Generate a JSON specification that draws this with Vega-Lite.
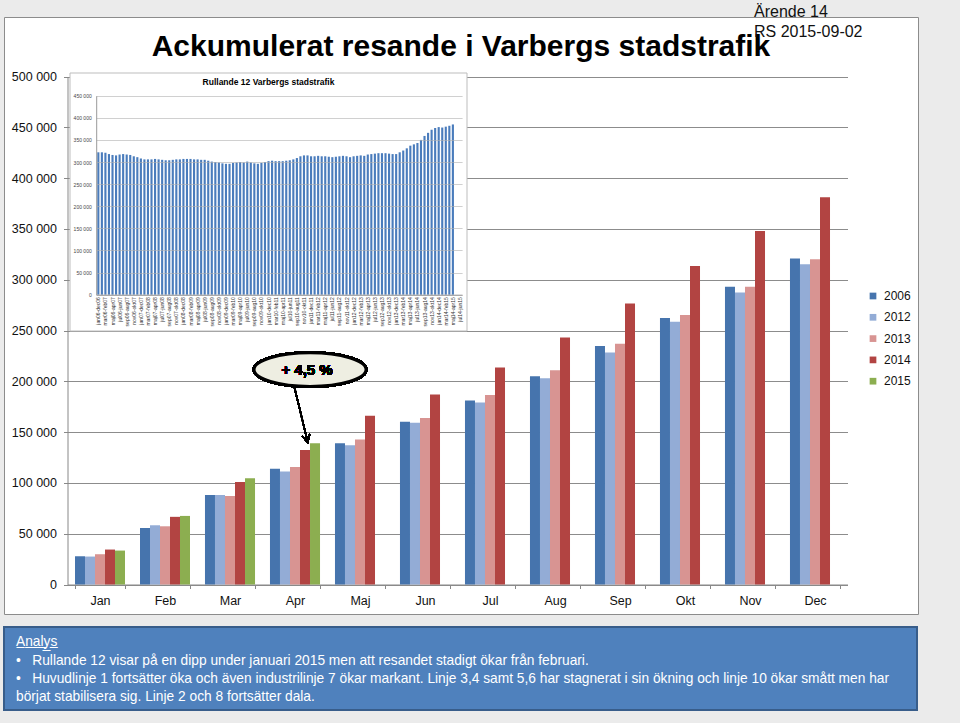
{
  "$schema": "https://vega.github.io/schema/vega-lite/v6.json",
  "background": "#ebebeb",
  "padding": {"left": 3, "top": 3, "right": 43, "bottom": 13},
  "config": {
    "font": "Liberation Sans",
    "view": {"stroke": null},
    "locale": {"number": {"decimal": ",", "thousands": " ", "grouping": [3], "currency": ["", ""]}}
  },
  "title": {
    "text": ["Ärende 14", "RS 2015-09-02"],
    "anchor": "start",
    "frame": "bounds",
    "dx": 751,
    "offset": -23,
    "fontSize": 16,
    "fontWeight": "normal",
    "lineHeight": 20,
    "color": "#111111"
  },
  "datasets": {
    "main": [
      {"month": "Jan", "year": "2006", "value": 27800},
      {"month": "Jan", "year": "2012", "value": 27500},
      {"month": "Jan", "year": "2013", "value": 29800},
      {"month": "Jan", "year": "2014", "value": 34400},
      {"month": "Jan", "year": "2015", "value": 33400},
      {"month": "Feb", "year": "2006", "value": 55600},
      {"month": "Feb", "year": "2012", "value": 58300},
      {"month": "Feb", "year": "2013", "value": 57300},
      {"month": "Feb", "year": "2014", "value": 66600},
      {"month": "Feb", "year": "2015", "value": 67500},
      {"month": "Mar", "year": "2006", "value": 88100},
      {"month": "Mar", "year": "2012", "value": 88100},
      {"month": "Mar", "year": "2013", "value": 87100},
      {"month": "Mar", "year": "2014", "value": 101000},
      {"month": "Mar", "year": "2015", "value": 104600},
      {"month": "Apr", "year": "2006", "value": 113900},
      {"month": "Apr", "year": "2012", "value": 111300},
      {"month": "Apr", "year": "2013", "value": 115600},
      {"month": "Apr", "year": "2014", "value": 132500},
      {"month": "Apr", "year": "2015", "value": 139100},
      {"month": "Maj", "year": "2006", "value": 139100},
      {"month": "Maj", "year": "2012", "value": 137100},
      {"month": "Maj", "year": "2013", "value": 142700},
      {"month": "Maj", "year": "2014", "value": 166200},
      {"month": "Jun", "year": "2006", "value": 160300},
      {"month": "Jun", "year": "2012", "value": 159300},
      {"month": "Jun", "year": "2013", "value": 163900},
      {"month": "Jun", "year": "2014", "value": 187000},
      {"month": "Jul", "year": "2006", "value": 181200},
      {"month": "Jul", "year": "2012", "value": 179200},
      {"month": "Jul", "year": "2013", "value": 186500},
      {"month": "Jul", "year": "2014", "value": 213500},
      {"month": "Aug", "year": "2006", "value": 205000},
      {"month": "Aug", "year": "2012", "value": 203000},
      {"month": "Aug", "year": "2013", "value": 210900},
      {"month": "Aug", "year": "2014", "value": 243200},
      {"month": "Sep", "year": "2006", "value": 234700},
      {"month": "Sep", "year": "2012", "value": 228400},
      {"month": "Sep", "year": "2013", "value": 237000},
      {"month": "Sep", "year": "2014", "value": 276600},
      {"month": "Okt", "year": "2006", "value": 262400},
      {"month": "Okt", "year": "2012", "value": 258700},
      {"month": "Okt", "year": "2013", "value": 265300},
      {"month": "Okt", "year": "2014", "value": 313500},
      {"month": "Nov", "year": "2006", "value": 293100},
      {"month": "Nov", "year": "2012", "value": 287500},
      {"month": "Nov", "year": "2013", "value": 293100},
      {"month": "Nov", "year": "2014", "value": 347900},
      {"month": "Dec", "year": "2006", "value": 320800},
      {"month": "Dec", "year": "2012", "value": 315200},
      {"month": "Dec", "year": "2013", "value": 320100},
      {"month": "Dec", "year": "2014", "value": 381200}
    ],
    "rolling": [
      {"period": "jan06-dec06", "value": 322000},
      {"period": "feb06-jan07", "value": 322000},
      {"period": "mar06-feb07", "value": 321000},
      {"period": "apr06-mar07", "value": 318000},
      {"period": "maj06-apr07", "value": 316000},
      {"period": "jun06-maj07", "value": 315000},
      {"period": "jul06-jun07", "value": 317000},
      {"period": "aug06-jul07", "value": 318000},
      {"period": "sep06-aug07", "value": 317000},
      {"period": "okt06-sep07", "value": 316000},
      {"period": "nov06-okt07", "value": 313000},
      {"period": "dec06-nov07", "value": 311000},
      {"period": "jan07-dec07", "value": 308000},
      {"period": "feb07-jan08", "value": 306000},
      {"period": "mar07-feb08", "value": 306000},
      {"period": "apr07-mar08", "value": 306000},
      {"period": "maj07-apr08", "value": 307000},
      {"period": "jun07-maj08", "value": 306000},
      {"period": "jul07-jun08", "value": 305000},
      {"period": "aug07-jul08", "value": 304000},
      {"period": "sep07-aug08", "value": 304000},
      {"period": "okt07-sep08", "value": 305000},
      {"period": "nov07-okt08", "value": 306000},
      {"period": "dec07-nov08", "value": 306000},
      {"period": "jan08-dec08", "value": 307000},
      {"period": "feb08-jan09", "value": 307000},
      {"period": "mar08-feb09", "value": 307000},
      {"period": "apr08-mar09", "value": 306000},
      {"period": "maj08-apr09", "value": 306000},
      {"period": "jun08-maj09", "value": 305000},
      {"period": "jul08-jun09", "value": 305000},
      {"period": "aug08-jul09", "value": 303000},
      {"period": "sep08-aug09", "value": 301000},
      {"period": "okt08-sep09", "value": 300000},
      {"period": "nov08-okt09", "value": 299000},
      {"period": "dec08-nov09", "value": 297000},
      {"period": "jan09-dec09", "value": 296000},
      {"period": "feb09-jan10", "value": 296000},
      {"period": "mar09-feb10", "value": 298000},
      {"period": "apr09-mar10", "value": 299000},
      {"period": "maj09-apr10", "value": 300000},
      {"period": "jun09-maj10", "value": 299000},
      {"period": "jul09-jun10", "value": 301000},
      {"period": "aug09-jul10", "value": 299000},
      {"period": "sep09-aug10", "value": 297000},
      {"period": "okt09-sep10", "value": 296000},
      {"period": "nov09-okt10", "value": 298000},
      {"period": "dec09-nov10", "value": 300000},
      {"period": "jan10-dec10", "value": 302000},
      {"period": "feb10-jan11", "value": 303000},
      {"period": "mar10-feb11", "value": 302000},
      {"period": "apr10-mar11", "value": 302000},
      {"period": "maj10-apr11", "value": 302000},
      {"period": "jun10-maj11", "value": 303000},
      {"period": "jul10-jun11", "value": 304000},
      {"period": "aug10-jul11", "value": 306000},
      {"period": "sep10-aug11", "value": 309000},
      {"period": "okt10-sep11", "value": 313000},
      {"period": "nov10-okt11", "value": 315000},
      {"period": "dec10-nov11", "value": 315000},
      {"period": "jan11-dec11", "value": 313000},
      {"period": "feb11-jan12", "value": 313000},
      {"period": "mar11-feb12", "value": 314000},
      {"period": "apr11-mar12", "value": 313000},
      {"period": "maj11-apr12", "value": 313000},
      {"period": "jun11-maj12", "value": 312000},
      {"period": "jul11-jun12", "value": 311000},
      {"period": "aug11-jul12", "value": 312000},
      {"period": "sep11-aug12", "value": 313000},
      {"period": "okt11-sep12", "value": 314000},
      {"period": "nov11-okt12", "value": 313000},
      {"period": "dec11-nov12", "value": 311000},
      {"period": "jan12-dec12", "value": 313000},
      {"period": "feb12-jan13", "value": 314000},
      {"period": "mar12-feb13", "value": 315000},
      {"period": "apr12-mar13", "value": 314000},
      {"period": "maj12-apr13", "value": 317000},
      {"period": "jun12-maj13", "value": 318000},
      {"period": "jul12-jun13", "value": 319000},
      {"period": "aug12-jul13", "value": 320000},
      {"period": "sep12-aug13", "value": 320000},
      {"period": "okt12-sep13", "value": 320000},
      {"period": "nov12-okt13", "value": 319000},
      {"period": "dec12-nov13", "value": 318000},
      {"period": "jan13-dec13", "value": 318000},
      {"period": "feb13-jan14", "value": 322000},
      {"period": "mar13-feb14", "value": 326000},
      {"period": "apr13-mar14", "value": 331000},
      {"period": "maj13-apr14", "value": 337000},
      {"period": "jun13-maj14", "value": 340000},
      {"period": "jul13-jun14", "value": 343000},
      {"period": "aug13-jul14", "value": 350000},
      {"period": "sep13-aug14", "value": 359000},
      {"period": "okt13-sep14", "value": 366000},
      {"period": "nov13-okt14", "value": 373000},
      {"period": "dec13-nov14", "value": 377000},
      {"period": "jan14-dec14", "value": 379000},
      {"period": "feb14-jan15", "value": 378000},
      {"period": "mar14-feb15", "value": 380000},
      {"period": "apr14-mar15", "value": 382000},
      {"period": "maj14-apr15", "value": 385000},
      {"period": "jun14-maj15", "value": null},
      {"period": "jul14-jun15", "value": null}
    ]
  },
  "vconcat": [
    {
      "width": 914,
      "height": 597,
      "view": {"fill": "white", "stroke": "#8c8c8c", "strokeWidth": 1},
      "title": {
        "text": "Ackumulerat resande i Varbergs stadstrafik",
        "frame": "group",
        "anchor": "middle",
        "dx": 0,
        "offset": -45,
        "fontSize": 30,
        "fontWeight": "bold",
        "color": "#000000"
      },
      "resolve": {
        "scale": {"x": "independent", "y": "independent"},
        "axis": {"x": "independent", "y": "independent"}
      },
      "layer": [
        {
          "data": {"name": "main"},
          "layer": [
            {
              "mark": {"type": "bar"},
              "encoding": {
                "x": {
                  "field": "month",
                  "type": "nominal",
                  "scale": {
                    "domain": ["Jan", "Feb", "Mar", "Apr", "Maj", "Jun", "Jul", "Aug", "Sep", "Okt", "Nov", "Dec"],
                    "range": [63.5, 843.5],
                    "paddingInner": 0.23,
                    "paddingOuter": 0.115
                  },
                  "axis": {
                    "orient": "bottom",
                    "offset": -29.5,
                    "title": null,
                    "labelAngle": 0,
                    "labelFontSize": 12.5,
                    "labelColor": "#111111",
                    "labelPadding": 6,
                    "tickBand": "extent",
                    "tickSize": 4,
                    "tickColor": "#888888",
                    "domainColor": "#888888",
                    "grid": false
                  }
                },
                "xOffset": {
                  "field": "year",
                  "type": "nominal",
                  "scale": {"domain": ["2006", "2012", "2013", "2014", "2015"], "paddingInner": 0, "paddingOuter": 0}
                },
                "y": {
                  "field": "value",
                  "type": "quantitative",
                  "scale": {"domain": [0, 500000], "range": [567.5, 59.5], "nice": false},
                  "axis": {
                    "orient": "left",
                    "offset": -63.5,
                    "title": null,
                    "values": [0, 50000, 100000, 150000, 200000, 250000, 300000, 350000, 400000, 450000, 500000],
                    "format": ",d",
                    "labelFontSize": 12.5,
                    "labelColor": "#111111",
                    "labelPadding": 7,
                    "tickSize": 4,
                    "tickColor": "#888888",
                    "domainColor": "#888888",
                    "grid": true,
                    "gridColor": "#8c8c8c",
                    "gridWidth": 1
                  }
                },
                "color": {
                  "field": "year",
                  "type": "nominal",
                  "scale": {
                    "domain": ["2006", "2012", "2013", "2014", "2015"],
                    "range": ["#4674ad", "#93acd6", "#d89492", "#b24442", "#8cae50"]
                  },
                  "legend": {
                    "orient": "none",
                    "legendX": 863,
                    "legendY": 273,
                    "title": null,
                    "padding": 0,
                    "symbolType": "square",
                    "symbolSize": 45,
                    "symbolStrokeWidth": 0,
                    "labelFontSize": 12,
                    "labelColor": "#111111",
                    "labelOffset": 5,
                    "rowPadding": 9.3
                  }
                }
              }
            },
            {
              "mark": {
                "type": "point",
                "shape": "M-1.089,0A1,0.3,0,1,0,0.911,0A1,0.3,0,1,0,-1.089,0Z",
                "size": 12544,
                "filled": true,
                "fill": "#eeeee2",
                "stroke": "#000000",
                "strokeWidth": 3,
                "opacity": 1
              },
              "encoding": {
                "x": {"datum": "Apr"},
                "xOffset": {"datum": "2015"},
                "y": {"datum": 211500}
              }
            },
            {
              "mark": {
                "type": "text",
                "text": "+ 4,5 %",
                "fontSize": 15,
                "fontWeight": "bold",
                "color": "#000000",
                "align": "center",
                "baseline": "middle",
                "dx": -8
              },
              "encoding": {
                "x": {"datum": "Apr"},
                "xOffset": {"datum": "2015"},
                "y": {"datum": 211500}
              }
            },
            {
              "mark": {
                "type": "point",
                "shape": "M-0.141,-1L-0.141,1M-0.281,0.72L-0.141,1L-0.001,0.72",
                "size": 3200,
                "filled": false,
                "stroke": "#000000",
                "strokeWidth": 1.4,
                "angle": -13.6,
                "opacity": 1
              },
              "encoding": {
                "x": {"datum": "Apr"},
                "xOffset": {"datum": "2014"},
                "y": {"datum": 167800}
              }
            }
          ]
        },
        {
          "data": {"values": [{"caption": "Rullande 12 Varbergs stadstrafik"}]},
          "layer": [
            {
              "mark": {"type": "rect", "fill": "white", "stroke": "#bdbdbd", "strokeWidth": 1},
              "encoding": {
                "x": {"datum": 0, "type": "quantitative", "scale": {"domain": [0, 1], "range": [66, 463], "nice": false, "zero": false}, "axis": null},
                "x2": {"datum": 1},
                "y": {"datum": 0, "type": "quantitative", "scale": {"domain": [0, 1], "range": [56, 314], "nice": false, "zero": false}, "axis": null},
                "y2": {"datum": 1}
              }
            },
            {
              "mark": {
                "type": "text",
                "fontSize": 8.5,
                "fontWeight": "bold",
                "font": "Liberation Sans Narrow, Liberation Sans",
                "color": "#000000",
                "align": "center",
                "baseline": "alphabetic"
              },
              "encoding": {
                "text": {"field": "caption"},
                "x": {"datum": 0.5, "type": "quantitative"},
                "y": {"datum": 0.0484, "type": "quantitative"}
              }
            }
          ]
        },
        {
          "data": {"name": "rolling"},
          "mark": {"type": "bar", "color": "#4a7cbc"},
          "encoding": {
            "x": {
              "field": "period",
              "type": "nominal",
              "sort": null,
              "scale": {
                "domain": [
                  "jan06-dec06", "feb06-jan07", "mar06-feb07", "apr06-mar07", "maj06-apr07", "jun06-maj07", "jul06-jun07", "aug06-jul07", "sep06-aug07", "okt06-sep07", "nov06-okt07", "dec06-nov07",
                  "jan07-dec07", "feb07-jan08", "mar07-feb08", "apr07-mar08", "maj07-apr08", "jun07-maj08", "jul07-jun08", "aug07-jul08", "sep07-aug08", "okt07-sep08", "nov07-okt08", "dec07-nov08",
                  "jan08-dec08", "feb08-jan09", "mar08-feb09", "apr08-mar09", "maj08-apr09", "jun08-maj09", "jul08-jun09", "aug08-jul09", "sep08-aug09", "okt08-sep09", "nov08-okt09", "dec08-nov09",
                  "jan09-dec09", "feb09-jan10", "mar09-feb10", "apr09-mar10", "maj09-apr10", "jun09-maj10", "jul09-jun10", "aug09-jul10", "sep09-aug10", "okt09-sep10", "nov09-okt10", "dec09-nov10",
                  "jan10-dec10", "feb10-jan11", "mar10-feb11", "apr10-mar11", "maj10-apr11", "jun10-maj11", "jul10-jun11", "aug10-jul11", "sep10-aug11", "okt10-sep11", "nov10-okt11", "dec10-nov11",
                  "jan11-dec11", "feb11-jan12", "mar11-feb12", "apr11-mar12", "maj11-apr12", "jun11-maj12", "jul11-jun12", "aug11-jul12", "sep11-aug12", "okt11-sep12", "nov11-okt12", "dec11-nov12",
                  "jan12-dec12", "feb12-jan13", "mar12-feb13", "apr12-mar13", "maj12-apr13", "jun12-maj13", "jul12-jun13", "aug12-jul13", "sep12-aug13", "okt12-sep13", "nov12-okt13", "dec12-nov13",
                  "jan13-dec13", "feb13-jan14", "mar13-feb14", "apr13-mar14", "maj13-apr14", "jun13-maj14", "jul13-jun14", "aug13-jul14", "sep13-aug14", "okt13-sep14", "nov13-okt14", "dec13-nov14",
                  "jan14-dec14", "feb14-jan15", "mar14-feb15", "apr14-mar15", "maj14-apr15", "jun14-maj15", "jul14-jun15"
                ],
                "range": [92.2, 458.1],
                "paddingInner": 0.4,
                "paddingOuter": 0.3
              },
              "axis": {
                "orient": "bottom",
                "offset": -319.3,
                "zindex": 1,
                "title": null,
                "labelAngle": -90,
                "labelFontSize": 5,
                "labelColor": "#333333",
                "labelPadding": 2,
                "labelOverlap": false,
                "labelBound": false,
                "labelExpr": "indexof(['jan','mar','maj','jul','sep','nov'], slice(datum.value,0,3)) >= 0 ? datum.value : ''",
                "ticks": false,
                "domainColor": "#999999"
              }
            },
            "y": {
              "field": "value",
              "type": "quantitative",
              "scale": {"domain": [0, 450000], "range": [277.7, 78.7], "nice": false},
              "axis": {
                "orient": "left",
                "offset": -92.2,
                "zindex": 1,
                "title": null,
                "values": [0, 50000, 100000, 150000, 200000, 250000, 300000, 350000, 400000, 450000],
                "format": ",d",
                "labelFontSize": 5,
                "labelColor": "#444444",
                "labelPadding": 5,
                "ticks": false,
                "grid": true,
                "gridColor": "#b0b0b0",
                "gridWidth": 0.6,
                "domainColor": "#999999"
              }
            }
          }
        }
      ]
    },
    {
      "width": 913,
      "height": 83,
      "view": {"fill": "#4f81bd", "stroke": "#385d8a", "strokeWidth": 2},
      "title": {
        "text": [
          "A̲n̲a̲l̲y̲s̲",
          "\u00a0\u00a0\u2022\u00a0\u00a0\u00a0Rullande 12 visar på en dipp under januari 2015 men att resandet stadigt ökar från februari.",
          "\u00a0\u00a0\u2022\u00a0\u00a0\u00a0Huvudlinje 1 fortsätter öka och även industrilinje 7 ökar markant. Linje 3,4 samt 5,6 har stagnerat i sin ökning och linje 10 ökar smått men har",
          "\u00a0\u00a0\u00a0\u00a0\u00a0\u00a0börjat stabilisera sig. Linje 2 och 8 fortsätter dala."
        ],
        "frame": "group",
        "anchor": "start",
        "dx": 12,
        "offset": -77,
        "fontSize": 13.75,
        "fontWeight": "normal",
        "lineHeight": 18.3,
        "font": "Liberation Sans",
        "color": "#ffffff"
      },
      "data": {"values": [{}]},
      "mark": {"type": "point", "opacity": 0},
      "encoding": {}
    }
  ],
  "spacing": 11
}
